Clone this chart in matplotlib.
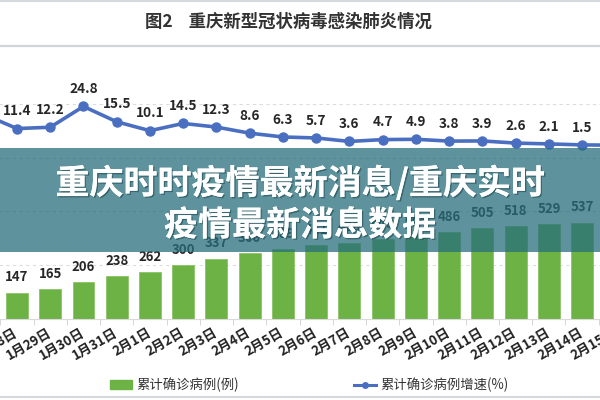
import matplotlib
matplotlib.use('Agg')
import matplotlib.pyplot as plt
from matplotlib.patches import Rectangle, Patch
from matplotlib.lines import Line2D
import matplotlib.patheffects as pe

# ---- data ----
dates = ['1月27日', '1月28日', '1月29日', '1月30日', '1月31日', '2月1日', '2月2日',
         '2月3日', '2月4日', '2月5日', '2月6日', '2月7日', '2月8日', '2月9日',
         '2月10日', '2月11日', '2月12日', '2月13日', '2月14日', '2月15日']
cumulative = [132, 147, 165, 206, 238, 262, 300, 337, 366, 389, 411, 426, 446,
              468, 486, 505, 518, 529, 537, 544]
growth = [20.0, 11.4, 12.2, 24.8, 15.5, 10.1, 14.5, 12.3, 8.6, 6.3, 5.7, 3.6,
          4.7, 4.9, 3.8, 3.9, 2.6, 2.1, 1.5, 1.3]
title = '图2    重庆新型冠状病毒感染肺炎情况'
banner_lines = ['重庆时时疫情最新消息/重庆实时', '疫情最新消息数据']
legend_labels = ['累计确诊病例(例)', '累计确诊病例增速(%)']

plt.rcParams['font.family'] = ['Noto Sans CJK SC', 'DejaVu Sans']

W, H = 600, 400
fig = plt.figure(figsize=(6, 4), dpi=100)
fig.patch.set_facecolor('white')

def fy(py):
    return 1 - py / H

# axes extends past both figure edges (the chart is a crop of a wider figure)
ax = fig.add_axes([-50 / W, fy(319), 700 / W, (319 - 50) / H])
xs = list(range(len(dates)))
bar_color = '#6db244'
line_color = '#4a6fc1'

ax.bar(xs, cumulative, width=0.66, color=bar_color, edgecolor='#8cc466',
       linewidth=0.6, zorder=2)
ax.set_ylim(0, 1500)
ax.set_yticks([300, 600, 900, 1200])
ax.yaxis.grid(True, linestyle=(0, (3, 3)), color='#dcdcdc', linewidth=0.8, zorder=0)
ax.set_axisbelow(True)
for s in ['top', 'left', 'right']:
    ax.spines[s].set_visible(False)
ax.spines['bottom'].set_color('#d9d9d9')
ax.tick_params(axis='y', length=0, labelleft=False)
ax.set_xticks(xs)
ax.set_xticklabels(dates, rotation=30, ha='right', va='center',
                   rotation_mode='anchor', fontsize=9.5, fontweight='bold',
                   color='#222222')
ax.tick_params(axis='x', which='major', length=0, pad=9)
ax.set_xticks([i + 0.5 for i in xs], minor=True)
ax.tick_params(axis='x', which='minor', length=4, color='#d0d0d0')

for i, v in zip(xs, cumulative):
    ax.annotate(str(v), (i, v), xytext=(0, 11), textcoords='offset points',
                ha='center', va='center', fontsize=9.5, fontweight='bold',
                color='#262626', zorder=4)

ax2 = ax.twinx()
ax2.plot(xs, growth, color=line_color, lw=2.6, marker='o', ms=6.5,
         markerfacecolor=line_color, markeredgecolor=line_color, zorder=3)
ax2.set_ylim(-104, 59)
ax2.axis('off')
for i, v in zip(xs, growth):
    ax2.annotate(f'{v:.1f}', (i, v), xytext=(0, 12.5), textcoords='offset points',
                 ha='center', va='center', fontsize=9.8, fontweight='bold',
                 color='#262626')
ax.set_xlim(-1.0156, 20.043)

# title and separators
fig.text(145 / W, fy(22), title, ha='left', va='center', fontsize=12.5,
         fontweight='bold', color='#333333')
for py, c, lw in [(1, '#d5d8dc', 1.5), (46, '#d0d4d8', 1.6), (397, '#d5d8dc', 1.5)]:
    fig.add_artist(Line2D([0, 1], [fy(py), fy(py)], transform=fig.transFigure,
                          color=c, lw=lw))

# legend
handles = [Patch(facecolor=bar_color, edgecolor=bar_color),
           Line2D([0], [0], color=line_color, lw=2.2, marker='o', ms=4)]
fig.legend(handles, legend_labels, loc='center', bbox_to_anchor=(0.515, fy(385)),
           ncol=2, frameon=False, fontsize=9.6, columnspacing=8.6,
           handlelength=1.7, handletextpad=0.3, labelcolor='#333333')

# banner overlay
fig.patches.append(Rectangle((0, fy(252)), 1, (252 - 148) / H,
                             transform=fig.transFigure, facecolor=(40/255, 110/255, 123/255),
                             alpha=0.75, edgecolor='none', zorder=5))
shadow = [pe.withSimplePatchShadow(offset=(1, -1), shadow_rgbFace='#1d4a52', alpha=0.6),
          pe.Normal()]
fig.text(0.5, fy(183), banner_lines[0], ha='center', va='center', fontsize=24.5,
         fontweight='bold', color='white', zorder=6, path_effects=shadow)
fig.text(0.5, fy(225), banner_lines[1], ha='center', va='center', fontsize=24.5,
         fontweight='bold', color='white', zorder=6, path_effects=shadow)

fig.savefig('out.png', dpi=100)
